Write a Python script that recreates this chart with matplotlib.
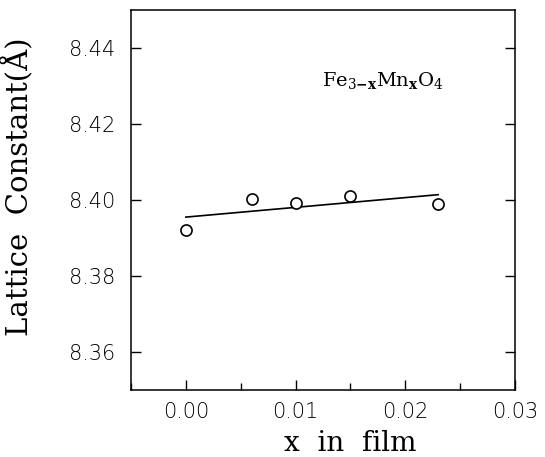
import matplotlib.pyplot as plt
from matplotlib.ticker import MultipleLocator

# measured points
x_film = [0.000, 0.006, 0.010, 0.015, 0.023]
lattice = [8.3921, 8.4002, 8.3993, 8.4010, 8.3990]

# straight fit line as drawn (end points)
fit_x = [0.000, 0.023]
fit_y = [8.3955, 8.4014]

x_ticks = [0.00, 0.01, 0.02, 0.03]
y_ticks = [8.36, 8.38, 8.40, 8.42, 8.44]

plt.rcParams['mathtext.fontset'] = 'dejavuserif'

fig = plt.figure(figsize=(5.45, 4.57), dpi=100)
ax = fig.add_axes([131 / 545, 1 - 390 / 457, 384 / 545, 380 / 457])

ax.plot(fit_x, fit_y, color='black', lw=1.2)
ax.plot(x_film, lattice, 'o', mfc='white', mec='black', ms=8, mew=1.2)

ax.set_xlim(-0.005, 0.03)
ax.set_ylim(8.35, 8.45)
ax.set_xticks(x_ticks)
ax.set_xticklabels(['%.2f' % v for v in x_ticks])
ax.set_yticks(y_ticks)
ax.set_yticklabels(['%.2f' % v for v in y_ticks])
ax.xaxis.set_minor_locator(MultipleLocator(0.005))

ax.tick_params(which='both', direction='in', top=False, right=True)
ax.tick_params(axis='y', which='both', right=True, length=7, width=1)
ax.tick_params(axis='x', which='major', length=7, width=1, pad=9)
ax.tick_params(axis='x', which='minor', length=5, width=1)
ax.tick_params(axis='y', pad=11)
for lab in ax.get_xticklabels() + ax.get_yticklabels():
    lab.set_fontfamily('DejaVu Sans')
    lab.set_fontsize(15)
    lab.set_fontweight('light')

for sp in ax.spines.values():
    sp.set_linewidth(1.1)

ax.set_xlabel('x  in  film', family='DejaVu Serif', fontsize=20)
ax.xaxis.set_label_coords((350 - 131) / 384, -0.105)
ax.set_ylabel('Lattice  Constant(Å)', family='DejaVu Serif', fontsize=21)
ax.yaxis.set_label_coords(-0.255, (390 - 187) / 380)

ax.text(0.497, 0.80, r'Fe$_{3\mathbf{-x}}$Mn$_\mathbf{x}$O$_4$', transform=ax.transAxes,
        family='DejaVu Serif', fontsize=14)

fig.savefig('out.png', dpi=100)
